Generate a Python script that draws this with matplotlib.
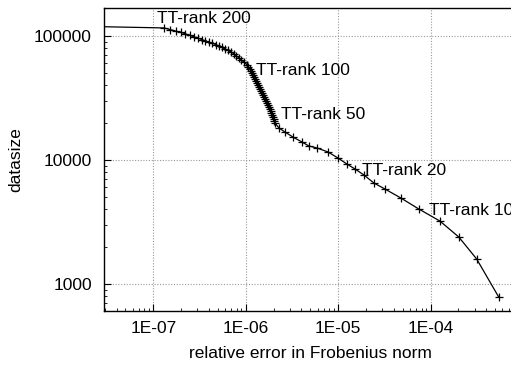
import matplotlib
matplotlib.use("Agg")
import matplotlib.pyplot as plt
from matplotlib.ticker import LogLocator, NullFormatter

plt.rcParams['font.family'] = ['Liberation Sans', 'DejaVu Sans']

# relative error (x) and datasize (y), from low to high TT-rank
rel_error = [
    5.46e-4, 3.15e-4, 2.02e-4, 1.26e-4, 7.45e-5, 4.76e-5, 3.20e-5, 2.43e-5, 1.90e-5, 1.52e-5,
    1.24e-5, 9.94e-6, 7.75e-6, 5.89e-6, 4.82e-6, 4.06e-6, 3.24e-6, 2.65e-6, 2.29e-6, 2.07e-6,
    2.032e-6, 2.002e-6, 1.968e-6, 1.934e-6, 1.896e-6, 1.854e-6, 1.813e-6, 1.772e-6, 1.733e-6,
    1.695e-6, 1.658e-6, 1.621e-6, 1.585e-6, 1.550e-6, 1.515e-6, 1.474e-6, 1.435e-6, 1.396e-6,
    1.358e-6, 1.321e-6, 1.289e-6, 1.258e-6, 1.226e-6, 1.196e-6, 1.164e-6, 1.130e-6, 1.099e-6,
    1.067e-6, 1.035e-6,
    9.561e-7, 8.985e-7, 8.443e-7, 7.93e-7, 7.455e-7, 6.918e-7, 6.42e-7, 5.958e-7, 5.529e-7,
    5.131e-7, 4.762e-7, 4.365e-7, 4.0e-7, 3.666e-7, 3.36e-7, 3.042e-7, 2.754e-7, 2.493e-7,
    2.229e-7, 1.993e-7, 1.76e-7, 1.515e-7, 1.305e-7,
    1.0e-8,
]
datasize = [
    785, 1592, 2393, 3221, 4027, 4940, 5840, 6530, 7570, 8460,
    9290, 10380, 11610, 12500, 12970, 13960, 15310, 16820, 18110, 19870,
    20630, 21410, 22230, 23070, 23930, 24850, 25780, 26750, 27770,
    28820, 29910, 31030, 32220, 33430, 34700, 36010, 37380, 38790,
    40260, 41790, 43370, 45000, 46700, 48480, 50310, 52210, 54190,
    56230, 58370,
    61480, 63920, 66460, 69100, 71850, 74300, 76400, 78560, 80790,
    83060, 85230, 87160, 89130, 91300, 93370, 95830, 98340, 100930,
    103970, 106710, 109320, 112610, 116000,
    120500,
]

x_ticks = [1e-7, 1e-6, 1e-5, 1e-4]
x_tick_labels = ["1E-07", "1E-06", "1E-05", "1E-04"]
y_ticks = [1000, 10000, 100000]
y_tick_labels = ["1000", "10000", "100000"]

rank_labels = ["TT-rank 200", "TT-rank 100", "TT-rank 50", "TT-rank 20", "TT-rank 10"]
# label anchor positions in pixels (left, baseline)
label_px = [(157, 23), (256, 75), (281, 119), (362, 175), (429, 215)]

W, H = 511, 368
fig = plt.figure(figsize=(W / 100, H / 100), dpi=100)
ax_left, ax_right, ax_top, ax_bottom = 104.3, 523.0, 8.3, 311.0
ax = fig.add_axes([ax_left / W, 1 - ax_bottom / H, (ax_right - ax_left) / W, (ax_bottom - ax_top) / H])

ax.set_xscale('log')
ax.set_yscale('log')
ax.set_xlim(2.95e-8, 1e-3)
ax.set_ylim(606, 167000)

ax.plot(rel_error, datasize, color='black', lw=0.9, marker='+', ms=6, mew=0.9, zorder=3)

ax.set_xticks(x_ticks)
ax.set_xticklabels(x_tick_labels)
ax.set_yticks(y_ticks)
ax.set_yticklabels(y_tick_labels)
ax.xaxis.set_minor_locator(LogLocator(base=10, subs=range(2, 10)))
ax.yaxis.set_minor_locator(LogLocator(base=10, subs=range(2, 10)))
ax.xaxis.set_minor_formatter(NullFormatter())
ax.yaxis.set_minor_formatter(NullFormatter())

ax.tick_params(which='major', direction='in', length=5, width=0.8, labelsize=12.5, colors='black')
ax.tick_params(axis='y', which='major', pad=9)
ax.tick_params(axis='x', which='major', pad=7)
ax.tick_params(which='minor', direction='in', length=2.5, width=0.6)

ax.grid(True, which='major', color='#999999', linestyle=(0, (1, 1.5)), linewidth=0.8)
for s in ax.spines.values():
    s.set_linewidth(1.0)
    s.set_color('black')

for txt, (px, py) in zip(rank_labels, label_px):
    fig.text(px / W, 1 - py / H, txt, ha='left', va='baseline', fontsize=12.5, color='black')

fig.text(16 / W, 1 - 160 / H, "datasize", rotation=90, ha='center', va='center', fontsize=12.5)
fig.text(310 / W, 1 - 354 / H, "relative error in Frobenius norm", ha='center', va='center', fontsize=12.5)

fig.savefig("out.png", dpi=100)
